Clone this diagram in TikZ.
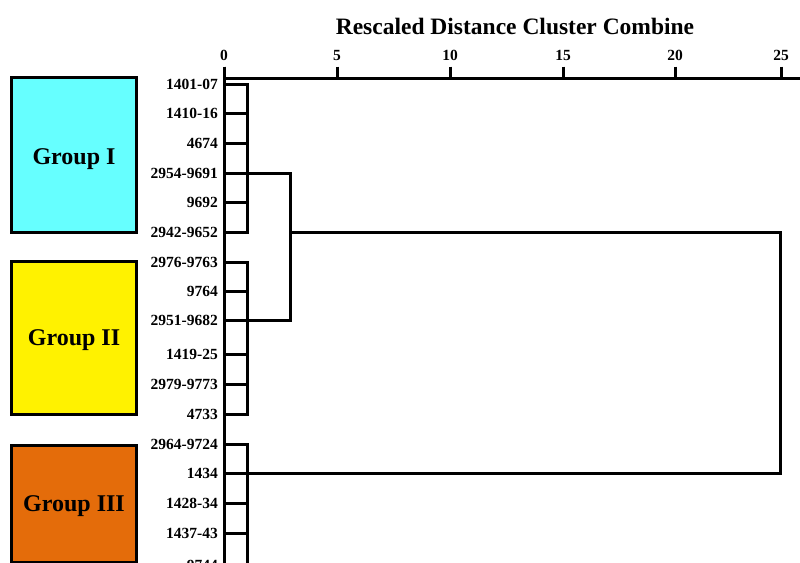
\documentclass[tikz,border=0pt]{standalone}
\usepackage{fontspec}
\setmainfont{Liberation Serif}
\begin{document}
\begin{tikzpicture}[x=1pt,y=-1pt,
  ln/.style={line width=3pt, line cap=rect},
  leaflab/.style={anchor=east, inner sep=0pt, font=\fontsize{15.5}{17}\selectfont\bfseries},
  ticklab/.style={inner sep=0pt, font=\fontsize{15.5}{17}\selectfont\bfseries},
  grp/.style={draw=black, line width=3pt, minimum width=125pt, inner sep=0pt},
  grplab/.style={inner sep=0pt, font=\fontsize{24}{27}\selectfont\bfseries},
  titlelab/.style={inner sep=0pt, font=\fontsize{23.5}{26}\selectfont\bfseries}]
\useasboundingbox (0,0) rectangle (800,562);
\clip (0,0) rectangle (800,562);
% title and axis
\node[titlelab] (title) at (515,26) {Rescaled Distance Cluster Combine};
\coordinate (ax0) at (224,78.5);
\coordinate (axend) at (802,78.5);
\draw[line width=3pt] (224,66.5) -- (224,570);
\draw[line width=3pt] (ax0) -- (axend);
\foreach \v/\x in {0/224,5/337,10/450,15/563,20/675,25/781}{
  \node[ticklab] (t\v) at (\x,55) {\v};
  \coordinate (tk\v) at (\x,66.5);
  \coordinate (tb\v) at (\x,78.5);
  \draw[line width=3pt] (tk\v) -- (tb\v);
}
% group boxes
\node[grp, fill={rgb,255:red,102;green,255;blue,255}, minimum height=155pt] (g1) at (74,154.5) {};
\node[grp, fill=yellow, minimum height=153pt] (g2) at (74,337.5) {};
\node[grp, fill={rgb,255:red,228;green,108;blue,10}, minimum height=117pt] (g3) at (74,503.5) {};
\node[grplab] (g1t) at (74,159) {Group I};
\node[grplab] (g2t) at (74,340) {Group II};
\node[grplab] (g3t) at (74,506) {Group III};
% leaves
\foreach \i/\y/\t in {1/84/1401-07,2/113/1410-16,3/143/4674,4/173/2954-9691,5/202/9692,6/232/2942-9652,
  7/262/2976-9763,8/291/9764,9/320/2951-9682,10/354/1419-25,11/384/2979-9773,12/414/4733,
  13/444/2964-9724,14/473/1434,15/503/1428-34,16/533/1437-43,17/565/9744}{
  \node[leaflab] (lab\i) at (218,\y) {\t};
  \coordinate (p\i) at (224,\y);
  \coordinate (q\i) at (247,\y);
  \draw[ln] (p\i) -- (q\i);
}
% cluster verticals
\draw[ln] (q1) -- (q6);
\draw[ln] (q7) -- (q12);
\draw[ln] (q13) -- (247,570);
% merges
\coordinate (m1a) at (290,173);
\coordinate (m1b) at (290,320);
\coordinate (m1c) at (290,232);
\draw[ln] (q4) -- (m1a) -- (m1b) -- (q9);
\coordinate (m2a) at (780,232);
\coordinate (m2b) at (780,473);
\draw[ln] (m1c) -- (m2a) -- (m2b) -- (q14);
\end{tikzpicture}
\end{document}
